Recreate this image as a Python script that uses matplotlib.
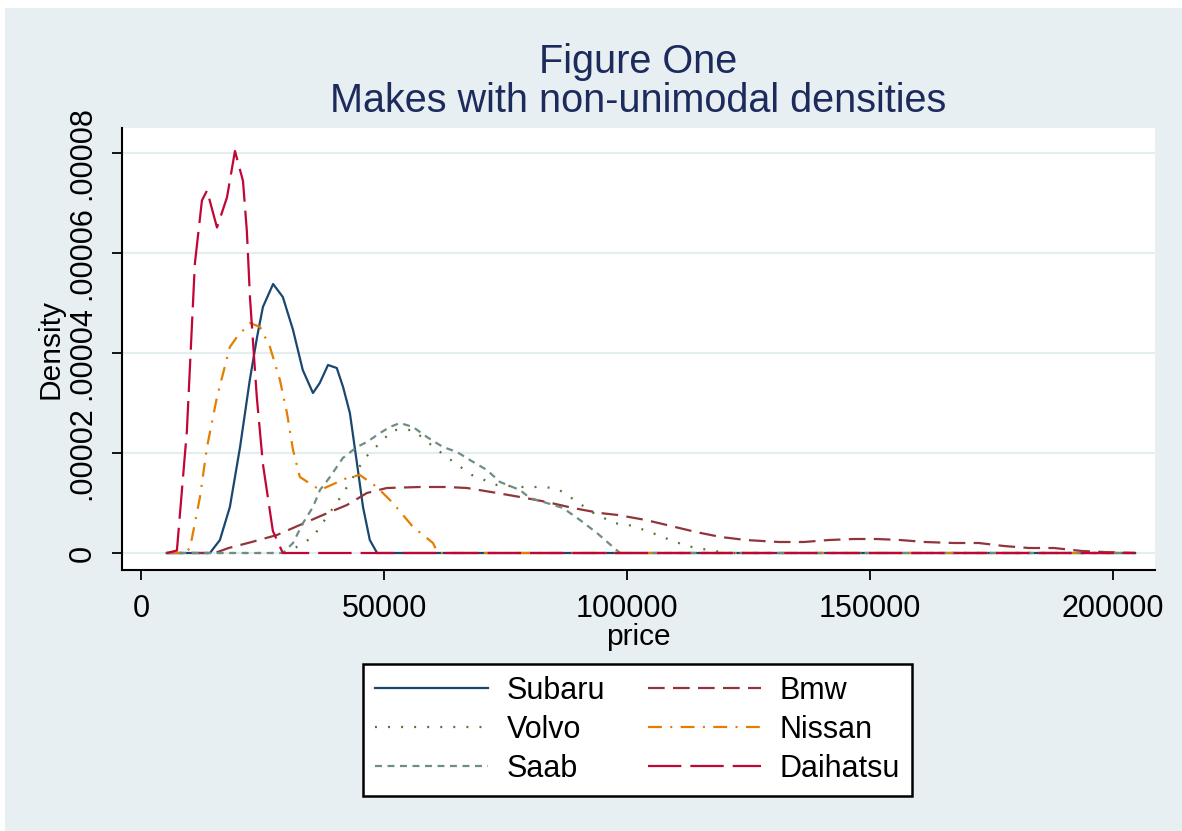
import numpy as np
import matplotlib
matplotlib.use("Agg")
import matplotlib.pyplot as plt
from matplotlib.patches import Rectangle

plt.rcParams['font.family'] = ['Liberation Sans', 'DejaVu Sans']
plt.rcParams['lines.scale_dashes'] = False

# kernel density estimates (price, density in 1e-5)
grid_lo, grid_hi = 5200, 204500

subaru_x = [14100, 16150, 18200, 20300, 22300, 23800, 25000, 27100, 29100, 31200, 33200,
            35300, 36700, 38400, 40200, 41500, 42900, 44350, 45600, 47000, 48500]
subaru_y = [0, 0.26, 0.92, 2.12, 3.46, 4.32, 4.92, 5.38, 5.12, 4.46, 3.66,
            3.20, 3.40, 3.76, 3.70, 3.32, 2.80, 1.80, 0.92, 0.26, 0]

bmw_x = [15100, 17950, 22700, 27900, 32600, 37350, 42300, 46400, 50500, 57300, 62900,
         67000, 73200, 77900, 83450, 88800, 94350, 98050, 103800, 109000, 114100,
         119250, 124400, 131200, 136350, 141500, 146650, 151350, 156100, 161250,
         167200, 172350, 177500, 182650, 187800, 193550, 198100, 204460]
bmw_y = [0, 0.10, 0.22, 0.36, 0.56, 0.76, 0.96, 1.20, 1.30, 1.32, 1.32,
         1.30, 1.20, 1.12, 1.02, 0.90, 0.80, 0.76, 0.66, 0.54, 0.42,
         0.32, 0.26, 0.22, 0.22, 0.26, 0.28, 0.28, 0.26, 0.22,
         0.20, 0.20, 0.14, 0.10, 0.10, 0.04, 0.02, 0]

volvo_x = [29950, 31600, 35300, 40850, 42300, 46000, 47000, 49100, 51750, 55900, 60400,
           64500, 68000, 73150, 78500, 83050, 85700, 88200, 93350, 97650, 99100,
           101750, 105700, 108350, 112250, 117800, 121100]
volvo_y = [0, 0.10, 0.32, 1.10, 1.32, 1.90, 2.00, 2.20, 2.46, 2.46, 2.10,
           1.80, 1.56, 1.36, 1.32, 1.32, 1.28, 1.12, 0.78, 0.59, 0.59,
           0.52, 0.38, 0.28, 0.14, 0.04, 0]

nissan_x = [8950, 10000, 12050, 13500, 15550, 18200, 19650, 22350, 24400, 26450, 28500,
            29950, 31200, 32600, 36750, 42300, 44950, 48450, 51750, 55900, 60000, 61000]
nissan_y = [0, 0.10, 1.12, 2.12, 3.12, 4.12, 4.32, 4.60, 4.52, 4.12, 3.46,
            2.80, 2.06, 1.52, 1.26, 1.50, 1.56, 1.32, 1.00, 0.52, 0.20, 0]

saab_x = [29100, 31200, 33250, 35300, 36750, 38800, 41450, 44350, 46400, 49100, 51150,
          53200, 55900, 58750, 62050, 64950, 67600, 71100, 73800, 77900, 79950,
          83450, 86750, 90250, 93750, 97050, 98500]
saab_y = [0, 0.20, 0.60, 0.92, 1.26, 1.52, 1.90, 2.12, 2.22, 2.40, 2.52,
          2.60, 2.52, 2.32, 2.12, 2.02, 1.86, 1.66, 1.42, 1.26, 1.10,
          1.00, 0.90, 0.66, 0.40, 0.12, 0]

daihatsu_x = [5250, 7300, 9350, 11000, 12450, 13500, 15550, 17600, 19250, 20900, 21700,
              22350, 23750, 25000, 27050, 29100]
daihatsu_y = [0, 0.05, 2.44, 5.79, 7.05, 7.25, 6.51, 7.11, 8.04, 7.44, 6.43,
              5.09, 3.11, 1.78, 0.44, 0]

# plotting order as in the original (Stata colours / patterns)
series = [
    ("Subaru", subaru_x, subaru_y, "#1a476f", "-"),
    ("Bmw", bmw_x, bmw_y, "#90353b", (0, (12, 6))),
    ("Volvo", volvo_x, volvo_y, "#55752f", (0, (1.4, 8))),
    ("Nissan", nissan_x, nissan_y, "#e37e00", (0, (10, 6, 1.5, 6))),
    ("Saab", saab_x, saab_y, "#6e8e84", (0, (5, 4))),
    ("Daihatsu", daihatsu_x, daihatsu_y, "#c10534", (0, (24, 6.5))),
]

W, H = 1182, 831
fig = plt.figure(figsize=(W / 100, H / 100), dpi=100, facecolor="white")
bg = "#e8eff2"
fig.patches.append(Rectangle((5 / W, 0), 1 - 5 / W, 1 - 8 / H, transform=fig.transFigure,
                             facecolor=bg, edgecolor="none", zorder=-10))

ax = fig.add_axes([122 / W, 1 - 570 / H, (1155 - 122) / W, (570 - 128) / H])
ax.set_facecolor("white")

lines = {}
for name, xs, ys, col, ls in series:
    px = [grid_lo] + list(xs) + [grid_hi]
    py = [0] + [v * 1e-5 for v in ys] + [0]
    ln, = ax.plot(px, py, color=col, linestyle=ls, lw=1.6, label=name)
    lines[name] = ln

ax.set_xlim(-4000, 208600)
ax.set_ylim(-0.34e-5, 8.5e-5)

xt = [0, 50000, 100000, 150000, 200000]
yt = [0, 2e-5, 4e-5, 6e-5, 8e-5]
ax.set_xticks(xt)
ax.set_xticklabels([str(v) for v in xt])
ax.set_yticks(yt)
ax.set_yticklabels(["0", ".00002", ".00004", ".00006", ".00008"], rotation=90, va="center")
ax.tick_params(axis="both", direction="out", length=7.5, width=1.3, colors="black",
               labelsize=22)
ax.tick_params(axis="x", pad=10)
ax.tick_params(axis="y", pad=10)
ax.grid(axis="y", color="#e4edf0", lw=1.6)
ax.set_axisbelow(True)
for s in ["top", "right"]:
    ax.spines[s].set_visible(False)
for s in ["left", "bottom"]:
    ax.spines[s].set_linewidth(1.5)
    ax.spines[s].set_color("black")

ax.set_xlabel("price", fontsize=21.5, labelpad=-1)
ax.set_ylabel("Density", fontsize=21.5, labelpad=2)

title_col = "#1c2b5c"
fig.text(638 / W, 1 - 62 / H, "Figure One", ha="center", va="center", fontsize=28.5, color=title_col)
fig.text(638 / W, 1 - 101 / H, "Makes with non-unimodal densities", ha="center", va="center",
         fontsize=28.5, color=title_col)

order = ["Subaru", "Volvo", "Saab", "Bmw", "Nissan", "Daihatsu"]
leg = fig.legend([lines[n] for n in order], order, ncol=2, loc="center",
                 bbox_to_anchor=(637.5 / W, 1 - 730 / H), bbox_transform=fig.transFigure,
                 fontsize=22, frameon=True, fancybox=False, framealpha=1, handlelength=3.7,
                 handletextpad=0.6, columnspacing=1.4, labelspacing=0.3, borderpad=0.4)
leg.get_frame().set_edgecolor("black")
leg.get_frame().set_linewidth(1.8)
leg.get_frame().set_facecolor("white")

fig.savefig("out.png", dpi=100, facecolor="white")
